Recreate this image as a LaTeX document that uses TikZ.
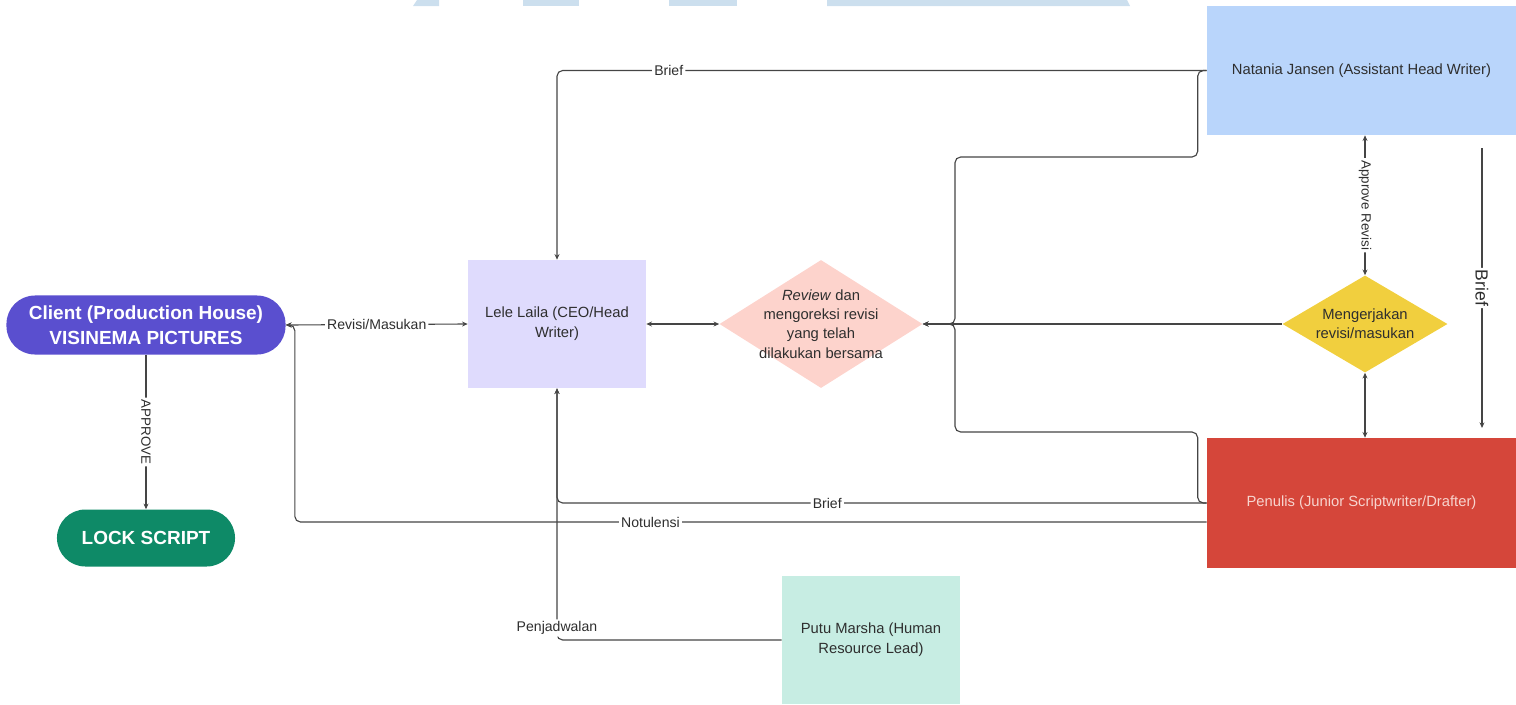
\documentclass[tikz,border=0pt]{standalone}
\usepackage{fontspec}
\setmainfont{Liberation Sans}
\usepackage{xcolor}
\usetikzlibrary{shapes.geometric,arrows.meta}
\definecolor{clientcol}{HTML}{5A4FCF}
\definecolor{lockcol}{HTML}{0E8A67}
\definecolor{lelecol}{HTML}{DFDBFD}
\definecolor{reviewcol}{HTML}{FDD3CC}
\definecolor{nataniacol}{HTML}{B9D5FB}
\definecolor{kerjacol}{HTML}{F1CF3E}
\definecolor{penuliscol}{HTML}{D5463A}
\definecolor{penulistext}{HTML}{F7D4CE}
\definecolor{putucol}{HTML}{C7EDE3}
\definecolor{textcol}{HTML}{2E2E2E}
\definecolor{linecol}{HTML}{454545}
\definecolor{wmcol}{HTML}{CCDFEE}
\tikzset{
  pillnode/.style={rectangle,rounded corners=0.71cm,text=white,
    font=\fontsize{13.5}{17.7}\selectfont\bfseries,align=center,inner sep=0pt},
  boxnode/.style={rectangle,minimum width=4.45cm,minimum height=3.2cm,
    inner sep=0pt,align=center,text=textcol,font=\fontsize{10.5}{14}\selectfont},
  decisionnode/.style={diamond,inner sep=0pt},
  boxtext/.style={align=center,text=textcol,font=\fontsize{10.5}{13.8}\selectfont},
  flowedge/.style={line width=0.8pt,draw=linecol,rounded corners=4pt,
    -{Stealth[length=4pt,width=3.5pt]}},
  twowayedge/.style={flowedge,{Stealth[length=4pt,width=3.5pt]}-{Stealth[length=4pt,width=3.5pt]}},
  edgelabel/.style={fill=white,inner sep=1.5pt,text=textcol,
    font=\fontsize{10}{12}\selectfont}
}
\begin{document}
\begin{tikzpicture}[x=0.025cm,y=-0.025cm]
  \useasboundingbox (0,0) rectangle (1516,704);
  \fill[wmcol] (417,0) -- (439,0) -- (439,6) -- (413,6) -- cycle;
  \fill[wmcol] (523,0) rectangle (579,6);
  \fill[wmcol] (669,0) rectangle (737,6);
  \fill[wmcol] (827,0) -- (1127,0) -- (1130,6) -- (827,6) -- cycle;

  \node[pillnode,fill=clientcol,minimum width=6.975cm,minimum height=1.475cm]
    (client) at (146,325) {Client (Production House)\\VISINEMA PICTURES};
  \node[pillnode,fill=lockcol,minimum width=4.45cm,minimum height=1.425cm]
    (lock) at (146,538) {LOCK SCRIPT};
  \node[boxnode,fill=lelecol] (lele) at (557,324) {Lele Laila (CEO/Head\\Writer)};
  \node[decisionnode,fill=reviewcol,minimum width=5.075cm,minimum height=3.2cm,
    label={[boxtext]center:\textit{Review} dan\\mengoreksi revisi\\yang telah\\dilakukan bersama}]
    (review) at (821,324) {};
  \node[boxnode,fill=nataniacol,minimum width=7.725cm,minimum height=3.225cm]
    (natania) at (1361.5,70.5) {Natania Jansen (Assistant Head Writer)};
  \node[decisionnode,fill=kerjacol,minimum width=4.125cm,minimum height=2.425cm,
    label={[boxtext]center:Mengerjakan\\revisi/masukan}]
    (kerja) at (1365,324) {};
  \node[boxnode,fill=penuliscol,text=penulistext,minimum width=7.725cm,minimum height=3.25cm]
    (penulis) at (1361.5,503) {Penulis (Junior Scriptwriter/Drafter)};
  \node[boxnode,fill=putucol] (putu) at (871,640) {Putu Marsha (Human\\Resource Lead)};
  \coordinate (brieftop) at (1482,148);
  \coordinate (briefend) at (1482,428);

  \draw[flowedge] (client.south) -- node[edgelabel,rotate=-90,
    font=\fontsize{9.5}{11}\selectfont]{APPROVE} (lock.north);
  \draw[twowayedge] (client.east) -- node[edgelabel]{Revisi/Masukan} (lele.west);
  \draw[twowayedge,line width=1.2pt] (lele.east) -- (review.west);
  \draw[flowedge] (natania.west) -| node[edgelabel,pos=0.414]{Brief} (lele.north);
  \draw[flowedge] (natania.west) -- ++(-9,0) |- (955,157) |- (review.east);
  \draw[flowedge] (kerja.west) -- (review.east);
  \draw[flowedge] (penulis.west) -- ++(-9,0) |- (955,432) |- (review.east);
  \draw[twowayedge] (kerja.north |- natania.south) -- node[edgelabel,rotate=-90,
    font=\fontsize{9.5}{11}\selectfont]{Approve Revisi} (kerja.north);
  \draw[twowayedge] (kerja.south) -- (kerja.south |- penulis.north);
  \draw[flowedge] (brieftop) -- node[edgelabel,rotate=-90,
    font=\fontsize{12.5}{14}\selectfont]{Brief} (briefend);
  \draw[flowedge] (penulis.west) -| node[edgelabel,pos=0.292]{Brief} (lele.south);
  \draw[flowedge] ([yshift=-0.475cm]penulis.west) -| node[edgelabel,pos=0.305]{Notulensi}
    ([xshift=0.225cm]client.east) -- (client.east);
  \draw[flowedge] (putu.west) -| node[edgelabel,pos=0.5,yshift=0.3cm]{Penjadwalan} (lele.south);
\end{tikzpicture}
\end{document}
